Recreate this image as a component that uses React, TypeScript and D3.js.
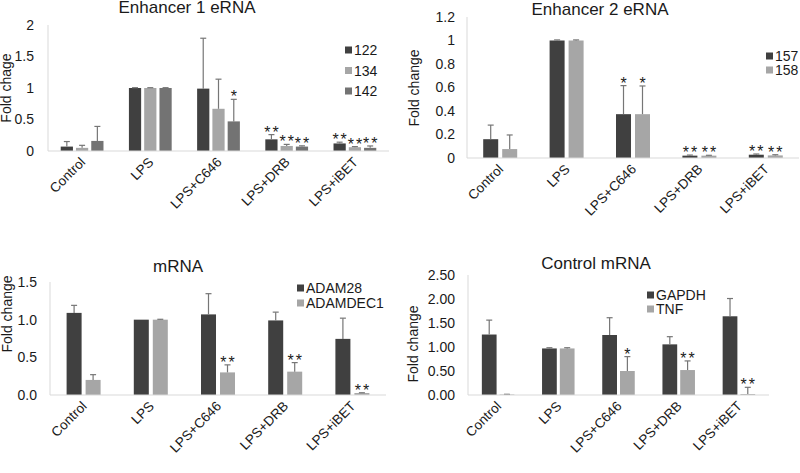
import React from 'react'
import * as d3 from 'd3'

const categories = ['Control', 'LPS', 'LPS+C646', 'LPS+DRB', 'LPS+iBET']

// Enhancer 1 eRNA
const e1_122 = [0.07, 1.0, 0.99, 0.185, 0.12]
const e1_122Err = [0.08, 0.005, 0.8, 0.075, 0.02]
const e1_134 = [0.05, 1.0, 0.67, 0.08, 0.06]
const e1_134Err = [0.04, 0.005, 0.47, 0.025, 0.01]
const e1_142 = [0.16, 1.0, 0.47, 0.07, 0.05]
const e1_142Err = [0.23, 0.005, 0.35, 0.012, 0.03]
const e1Stars = [['', '', '', '**', '**'], ['', '', '', '**', '**'], ['', '', '*', '**', '**']]

// Enhancer 2 eRNA
const e2_157 = [0.16, 1.0, 0.373, 0.02, 0.028]
const e2_157Err = [0.12, 0.005, 0.243, 0.005, 0.006]
const e2_158 = [0.076, 1.0, 0.373, 0.02, 0.022]
const e2_158Err = [0.12, 0.005, 0.24, 0.003, 0.006]
const e2Stars = [['', '', '*', '**', '**'], ['', '', '*', '**', '**']]

// mRNA
const adam28 = [1.09, 1.0, 1.07, 0.99, 0.745]
const adam28Err = [0.1, 0.0, 0.275, 0.11, 0.275]
const adamdec1 = [0.2, 1.0, 0.3, 0.31, 0.026]
const adamdec1Err = [0.07, 0.005, 0.1, 0.12, 0.004]
const mStars = [['', '', '', '', ''], ['', '', '**', '**', '**']]

// Control mRNA
const gapdh = [1.26, 0.97, 1.25, 1.055, 1.64]
const gapdhErr = [0.3, 0.015, 0.36, 0.16, 0.37]
const tnf = [0.01, 0.97, 0.5, 0.52, 0.02]
const tnfErr = [0.005, 0.015, 0.3, 0.19, 0.14]
const cStars = [['', '', '', '', ''], ['', '', '*', '**', '**']]

const DARK = '#404040'
const LIGHT = '#a6a6a6'
const MID = '#737373'
const AXIS = '#d9d9d9'
const ERR = '#767676'
const TEXT = '#1a1a1a'
const FONT = '"Liberation Sans", Arial, sans-serif'

type Series = { name: string; color: string; values: number[]; errors: number[]; stars: string[] }

type PanelProps = {
  title: string
  yLabel: string
  series: Series[]
  yMax: number
  ticks: number[]
  fmt: (v: number) => string
  box: { left: number; right: number; top: number; bottom: number }
  groupPad: number
  barPad: number
  titlePos: [number, number]
  labelPos: [number, number]
  legendPos: [number, number]
  legendStep: number
  tickGap: number
}

function Panel(p: PanelProps) {
  const { box } = p
  const y = d3.scaleLinear().domain([0, p.yMax]).range([box.bottom, box.top])
  const x0 = d3.scaleBand<string>().domain(categories).range([box.left, box.right])
    .paddingInner(p.groupPad).paddingOuter(p.groupPad / 2)
  const x1 = d3.scaleBand<string>().domain(p.series.map(s => s.name))
    .range([0, x0.bandwidth()]).paddingInner(p.barPad)
  const bw = x1.bandwidth()

  return (
    <g fontFamily={FONT}>
      <text x={p.titlePos[0]} y={p.titlePos[1]} textAnchor="middle" fontSize={17} fill={TEXT}>{p.title}</text>
      <text transform={`translate(${p.labelPos[0]},${p.labelPos[1]}) rotate(-90)`} textAnchor="middle"
        fontSize={14} fill={TEXT}>{p.yLabel}</text>
      {p.ticks.map(t => (
        <text key={t} x={box.left - p.tickGap} y={y(t)} dy="0.35em" textAnchor="end" fontSize={14} fill={TEXT}>
          {p.fmt(t)}
        </text>
      ))}
      <line x1={box.left} x2={box.left} y1={box.bottom} y2={box.top} stroke={AXIS} />
      {p.series.map(s => (
        <g key={s.name}>
          {categories.map((c, i) => {
            const bx = (x0(c) || 0) + (x1(s.name) || 0)
            const cx = bx + bw / 2
            const top = y(s.values[i])
            const et = y(s.values[i] + s.errors[i])
            return (
              <g key={c}>
                <rect x={bx} y={top} width={bw} height={box.bottom - top} fill={s.color} />
                {s.errors[i] > 0 && (
                  <g stroke={ERR} strokeWidth={1.2}>
                    <line x1={cx} x2={cx} y1={top} y2={et} />
                    <line x1={cx - 3} x2={cx + 3} y1={et} y2={et} />
                  </g>
                )}
                {s.stars[i] && (
                  <text x={cx + 1} y={et + 3} textAnchor="middle" fontSize={16} letterSpacing={2} fill={TEXT}>
                    {s.stars[i]}
                  </text>
                )}
              </g>
            )
          })}
        </g>
      ))}
      <line x1={box.left} x2={box.right} y1={box.bottom} y2={box.bottom} stroke={AXIS} />
      {categories.map(c => (
        <text key={c} transform={`translate(${(x0(c) || 0) + x0.bandwidth() / 2 + 4},${box.bottom + 12}) rotate(-45)`}
          textAnchor="end" fontSize={13.5} fill={TEXT}>{c}</text>
      ))}
      {p.series.map((s, i) => (
        <g key={s.name} transform={`translate(${p.legendPos[0]},${p.legendPos[1] + i * p.legendStep})`}>
          <rect x={0} y={-3.5} width={7} height={7} fill={s.color} />
          <text x={9} y={0} dy="0.36em" fontSize={14} fill={TEXT}>{s.name}</text>
        </g>
      ))}
    </g>
  )
}

export default function App() {
  return (
    <svg width={800} height={473} style={{ position: 'absolute', left: 0, top: 0, background: '#fff' }}>
      <rect width={800} height={473} fill="#fff" />
      <Panel
        title="Enhancer 1 eRNA" yLabel="Fold chage"
        series={[
          { name: '122', color: DARK, values: e1_122, errors: e1_122Err, stars: e1Stars[0] },
          { name: '134', color: LIGHT, values: e1_134, errors: e1_134Err, stars: e1Stars[1] },
          { name: '142', color: MID, values: e1_142, errors: e1_142Err, stars: e1Stars[2] },
        ]}
        yMax={2} ticks={[0, 0.5, 1, 1.5, 2]} fmt={d3.format('~g')}
        box={{ left: 48, right: 389, top: 25, bottom: 151 }}
        groupPad={0.373} barPad={0.2}
        titlePos={[187, 13]} labelPos={[11, 88]} legendPos={[345, 50]} legendStep={20.5} tickGap={14}
      />
      <Panel
        title="Enhancer 2 eRNA" yLabel="Fold change"
        series={[
          { name: '157', color: DARK, values: e2_157, errors: e2_157Err, stars: e2Stars[0] },
          { name: '158', color: LIGHT, values: e2_158, errors: e2_158Err, stars: e2Stars[1] },
        ]}
        yMax={1.2} ticks={[0, 0.2, 0.4, 0.6, 0.8, 1, 1.2]} fmt={d3.format('~g')}
        box={{ left: 467, right: 799, top: 17, bottom: 158 }}
        groupPad={0.488} barPad={0.21}
        titlePos={[600, 15]} labelPos={[419, 88]} legendPos={[766, 56]} legendStep={14} tickGap={12}
      />
      <Panel
        title="mRNA" yLabel="Fold change"
        series={[
          { name: 'ADAM28', color: DARK, values: adam28, errors: adam28Err, stars: mStars[0] },
          { name: 'ADAMDEC1', color: LIGHT, values: adamdec1, errors: adamdec1Err, stars: mStars[1] },
        ]}
        yMax={1.5} ticks={[0, 0.5, 1, 1.5]} fmt={d3.format('.1f')}
        box={{ left: 50, right: 386, top: 282, bottom: 395 }}
        groupPad={0.494} barPad={0.21}
        titlePos={[178, 272]} labelPos={[12, 314]} legendPos={[297, 288]} legendStep={15} tickGap={13}
      />
      <Panel
        title="Control mRNA" yLabel="Fold change"
        series={[
          { name: 'GAPDH', color: DARK, values: gapdh, errors: gapdhErr, stars: cStars[0] },
          { name: 'TNF', color: LIGHT, values: tnf, errors: tnfErr, stars: cStars[1] },
        ]}
        yMax={2.5} ticks={[0, 0.5, 1, 1.5, 2, 2.5]} fmt={d3.format('.2f')}
        box={{ left: 468, right: 769, top: 275, bottom: 395 }}
        groupPad={0.46} barPad={0.17}
        titlePos={[596, 269]} labelPos={[418, 344]} legendPos={[647, 295]} legendStep={14} tickGap={13}
      />
    </svg>
  )
}
